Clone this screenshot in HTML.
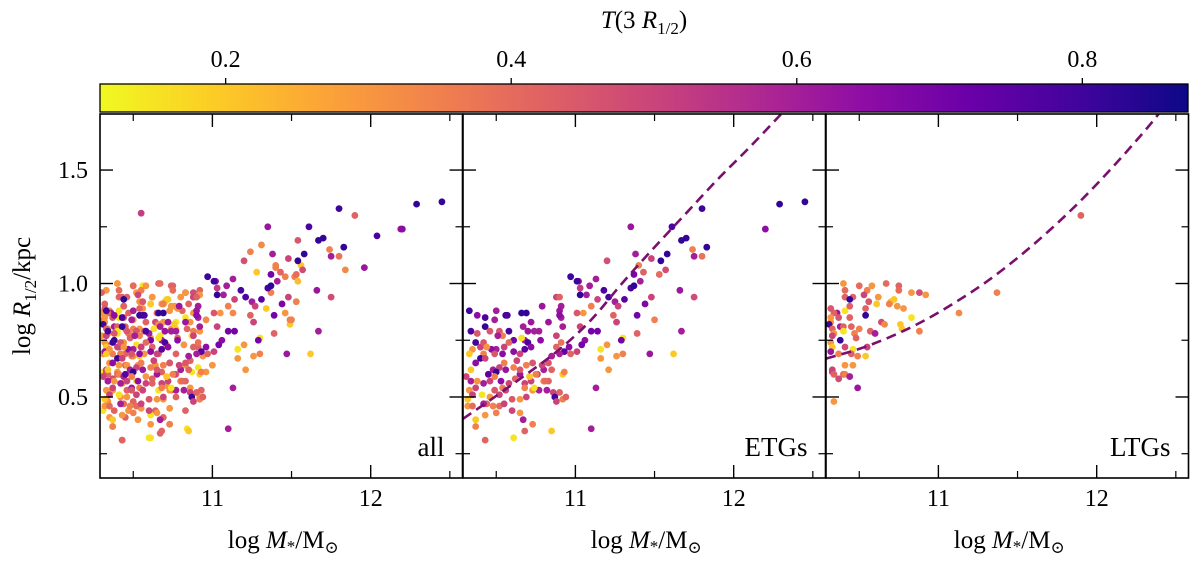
<!DOCTYPE html>
<html><head><meta charset="utf-8"><style>
html,body{margin:0;padding:0;background:#fff;}
svg{display:block;}
svg text{font-family:"Liberation Serif","DejaVu Serif",serif;}
</style></head><body>
<svg id="chart" width="1200" height="562" viewBox="0 0 1200 562" xmlns="http://www.w3.org/2000/svg" font-family="Liberation Serif, serif">
<defs><linearGradient id="cbgrad" x1="0" x2="1" y1="0" y2="0"></linearGradient></defs>
<g id="cb"></g>
<g id="panels"></g>
<text x="30" y="296" font-size="25" font-family="Liberation Serif, serif" text-anchor="middle" transform="rotate(-90 30 296)">log <tspan font-style="italic">R</tspan><tspan font-size="17" dy="6">1/2</tspan><tspan dy="-6">/kpc</tspan></text>
</svg>
<script>
// ---- data ----
const etgM=[12.45,12.29,12.20,11.80,11.61,11.67,11.70,11.83,11.74,11.80,11.75,11.35,11.20,11.38,11.48,11.54,11.58,11.57,11.53,11.40,11.43,11.37,11.41,11.35,11.37,10.97,11.02,11.09,11.13,11.03,11.18,11.21,11.25,11.31,11.27,11.24,11.26,11.39,11.44,11.48,11.50,11.66,11.75,11.67,11.39,11.30,11.29,11.20,11.16,11.16,11.26,11.30,11.47,11.62,11.21,11.13,11.10,11.01,11.03,11.07,11.14,11.10,11.05,11.01,11.03,11.10,11.14,11.06,11.04,10.96,10.93,10.90,10.85,10.97,11.01,10.88,10.90,10.91,10.90,10.91,10.90,10.83,10.92,10.88,10.91,10.88,10.83,10.80,10.79,10.77,10.78,10.79,10.76,10.72,10.68,10.65,10.62,10.58,10.54,10.52,10.49,10.46,10.44,10.41,10.37,10.34,10.33,10.32,10.31,10.34,10.37,10.40,10.35,10.33,10.37,10.42,10.34,10.38,10.43,10.46,10.49,10.52,10.56,10.58,10.66,10.69,10.67,10.70,10.72,10.74,10.68,10.66,10.61,10.58,10.55,10.50,10.47,10.44,10.42,10.40,10.43,10.49,10.54,10.61,10.65,10.70,10.72,10.68,10.63,10.55,10.52,10.48,10.45,10.50,10.56,10.61,10.65,10.69,10.73,10.75,10.71,10.68,10.73,10.69,10.65,10.60,10.56,10.53,10.49,10.46,10.42,10.38,10.35,10.32,10.35,10.42,10.48,10.52,10.55,10.60,10.65,10.50,10.43,10.37,10.37,10.67,10.73,10.68,10.85,10.61,10.43,10.80,10.83,10.82,10.86,10.90,10.87,10.92,10.94,10.88,10.92,10.93,10.85,10.81,10.77,10.74,10.33,10.38,10.43,10.50,10.57,10.54,10.51];
const etgR=[1.36,1.35,1.24,1.33,1.25,1.19,1.20,1.16,1.15,1.12,1.12,1.25,1.10,1.13,1.11,1.10,1.13,1.06,1.04,1.08,1.05,1.04,1.01,0.98,0.99,1.03,1.01,0.99,1.02,0.98,0.97,0.94,0.92,0.93,0.90,0.86,0.83,0.86,0.91,0.94,0.84,0.97,0.94,0.79,0.78,0.76,0.75,0.73,0.71,0.67,0.68,0.69,0.69,0.69,0.62,0.54,0.36,1.01,0.95,0.95,0.93,0.90,0.87,0.87,0.81,0.79,0.79,0.75,0.73,0.72,0.70,0.69,0.68,0.69,0.70,0.94,0.94,0.90,0.88,0.85,0.86,0.83,0.81,0.77,0.74,0.72,0.65,0.62,0.90,0.79,0.75,0.64,0.60,0.57,0.56,0.60,0.58,0.56,0.54,0.51,0.53,0.50,0.47,0.51,0.54,0.57,0.53,0.49,0.59,0.62,0.65,0.72,0.71,0.69,0.74,0.74,0.79,0.78,0.81,0.79,0.84,0.79,0.86,0.79,0.87,0.87,0.81,0.79,0.83,0.79,0.75,0.76,0.75,0.74,0.72,0.71,0.71,0.72,0.69,0.67,0.67,0.69,0.69,0.70,0.69,0.74,0.72,0.71,0.66,0.65,0.63,0.62,0.60,0.61,0.62,0.63,0.62,0.64,0.65,0.60,0.59,0.54,0.53,0.50,0.49,0.49,0.53,0.57,0.59,0.57,0.56,0.57,0.51,0.46,0.46,0.47,0.46,0.46,0.47,0.44,0.43,0.43,0.42,0.40,0.37,0.40,0.38,0.35,0.35,0.32,0.31,0.57,0.57,0.53,0.52,0.52,0.50,0.49,0.50,0.48,0.60,0.61,0.62,0.57,0.53,0.54,0.88,0.86,0.85,0.88,0.86,0.77,0.77];
const etgT=[.82,.82,.65,.8,.78,.82,.82,.82,.35,.38,.6,.62,.47,.6,.5,.82,.82,.48,.4,.35,.42,.7,.6,.78,.82,.8,.65,.6,.6,.52,.78,.78,.6,.75,.5,.42,.5,.7,.68,.5,.35,.62,.48,.6,.42,.15,.7,.3,.15,.3,.3,.35,.62,.2,.3,.6,.6,.8,.82,.6,.5,.35,.3,.45,.5,.7,.7,.65,.7,.65,.75,.6,.6,.42,.5,.5,.42,.6,.62,.6,.65,.62,.6,.5,.38,.42,.45,.6,.62,.6,.65,.5,.5,.5,.5,.62,.42,.5,.35,.5,.45,.3,.4,.15,.5,.6,.3,.2,.5,.2,.65,.5,.3,.2,.8,.45,.78,.45,.82,.45,.6,.45,.8,.78,.82,.82,.6,.62,.62,.6,.6,.15,.7,.4,.5,.6,.65,.3,.35,.8,.5,.45,.65,.65,.5,.78,.65,.75,.5,.35,.5,.6,.75,.82,.62,.35,.45,.35,.45,.35,.2,.35,.3,.5,.3,.45,.5,.65,.35,.5,.6,.3,.5,.3,.4,.6,.35,.4,.5,.5,.3,.35,.3,.2,.35,.6,.35,.42,.2,.15,.42,.35,.42,.6,.5,.42,.8,.35,.42,.5,.2,.35,.42,.4,.6,.15,.8,.65,.78,.6,.78,.35,.6];
const ltgM=[11.90,11.37,11.13,10.40,10.67,10.75,10.75,10.50,10.55,10.58,10.41,10.53,10.83,10.88,10.92,10.41,10.46,10.44,10.62,10.61,10.56,10.70,10.72,10.69,10.74,10.78,10.44,10.54,10.41,10.36,10.34,10.54,10.44,10.37,10.32,10.32,10.32,10.83,10.64,10.66,10.31,10.38,10.40,10.45,10.76,10.77,10.50,10.57,10.40,10.33,10.34,10.60,10.88,10.47,10.48,10.33,10.38,10.32,10.33,10.41,10.55,10.46,10.32,10.37,10.45,10.49,10.54,10.46,10.41,10.33,10.33,10.40,10.41,10.34,10.37,10.44,10.49,10.34];
const ltgR=[1.30,0.96,0.87,1.00,1.00,0.99,0.97,0.99,0.97,0.99,0.97,0.95,0.96,0.96,0.95,0.94,0.94,0.93,0.94,0.91,0.92,0.92,0.93,0.91,0.90,0.89,0.90,0.89,0.88,0.87,0.87,0.86,0.85,0.85,0.89,0.85,0.83,0.85,0.83,0.82,0.82,0.81,0.81,0.81,0.82,0.80,0.80,0.79,0.79,0.80,0.78,0.78,0.79,0.78,0.76,0.77,0.75,0.74,0.72,0.72,0.72,0.71,0.70,0.69,0.69,0.68,0.68,0.64,0.64,0.62,0.61,0.60,0.60,0.60,0.58,0.59,0.54,0.48];
const ltgT=[.42,.35,.33,.3,.4,.42,.4,.4,.35,.3,.4,.5,.3,.48,.3,.42,.42,.82,.3,.2,.45,.2,.2,.35,.3,.3,.42,.42,.15,.62,.42,.82,.42,.45,.45,.3,.3,.15,.48,.33,.8,.6,.42,.42,.2,.2,.35,.42,.15,.42,.3,.6,.35,.35,.42,.5,.82,.3,.2,.48,.5,.15,.62,.35,.42,.35,.2,.3,.3,.5,.5,.42,.35,.42,.48,.6,.62,.3];
const othM=[10.55,11.31,11.24,11.54,11.84,11.96,12.04,12.19,11.40,11.56,11.28,11.52,11.46,11.54,11.53,11.49,11.46,11.49,11.34,10.96,10.40,10.50,10.56,10.66,10.74,10.83,10.92,10.33,10.43,10.52,10.62,10.71,10.80,10.88,10.32,10.44,10.54,10.61,10.68,10.76,10.85,10.35,10.47,10.56,10.65,10.73,10.81,10.88,10.31,10.41,10.50,10.58,10.69,10.77,10.86,10.34,10.45,10.54,10.63,10.74,10.84,10.92,10.30,10.40,10.49,10.61,10.67,10.78,10.87,10.33,10.44,10.52,10.62,10.71,10.82,10.91,10.31,10.42,10.50,10.57,10.66,10.77,10.86,10.94,10.35,10.45,10.53,10.64,10.73,10.83,10.91,11.00,10.31,10.40,10.49,10.58,10.68,10.77,10.87,10.96,10.34,10.43,10.52,10.62,10.71,10.80,10.86,10.93,10.37,10.46,10.56,10.66,10.74,10.33,10.42,10.50,10.60,10.69,10.77,10.92,10.31,10.38,10.47,10.55,10.64,10.73,10.83,10.35,10.45,10.53,10.61,10.69,10.37,10.61,10.73,10.84,10.60,10.67,10.43,10.30,10.30];
const othR=[1.31,1.17,1.14,1.19,1.06,1.07,1.21,1.24,1.07,1.08,1.05,1.03,1.03,1.01,0.92,0.82,0.87,0.84,0.89,0.84,1.00,0.99,0.99,1.00,0.99,0.96,0.97,0.97,0.94,0.96,0.94,0.93,0.94,0.94,0.91,0.90,0.92,0.91,0.91,0.90,0.91,0.88,0.87,0.89,0.87,0.88,0.88,0.87,0.84,0.85,0.84,0.83,0.83,0.83,0.83,0.80,0.80,0.80,0.80,0.80,0.80,0.79,0.77,0.78,0.77,0.76,0.77,0.76,0.77,0.73,0.74,0.73,0.72,0.73,0.73,0.72,0.69,0.69,0.68,0.69,0.69,0.69,0.66,0.68,0.65,0.64,0.64,0.64,0.65,0.64,0.63,0.64,0.61,0.61,0.60,0.59,0.61,0.60,0.61,0.61,0.57,0.56,0.57,0.56,0.55,0.57,0.54,0.53,0.53,0.53,0.53,0.53,0.53,0.49,0.50,0.48,0.49,0.49,0.50,0.50,0.44,0.44,0.44,0.45,0.44,0.45,0.44,0.41,0.41,0.40,0.42,0.41,0.37,0.38,0.38,0.36,0.32,0.34,0.31,0.96,0.87];
const othT=[.52,.33,.35,.45,.33,.62,.78,.62,.35,.2,.2,.35,.35,.22,.35,.2,.3,.35,.2,.33,.3,.3,.15,.42,.42,.42,.42,.3,.42,.3,.3,.15,.3,.42,.42,.42,.3,.15,.3,.3,.42,.3,.42,.3,.42,.3,.42,.3,.42,.15,.3,.42,.3,.15,.3,.3,.42,.3,.15,.3,.42,.3,.3,.15,.42,.3,.15,.42,.15,.42,.3,.15,.42,.3,.3,.42,.3,.42,.3,.3,.42,.42,.42,.3,.3,.42,.3,.3,.42,.3,.15,.3,.15,.3,.42,.3,.42,.42,.15,.3,.42,.3,.15,.42,.3,.42,.3,.42,.3,.42,.3,.15,.42,.3,.3,.42,.3,.3,.42,.3,.15,.42,.3,.3,.42,.3,.42,.3,.42,.3,.15,.42,.3,.3,.3,.15,.15,.42,.42,.42,.3];
const etgLineM=[10.29,10.5,10.7,10.9,11.1,11.3,11.5,11.7,11.9,12.1,12.3];
const etgLineR=[0.404,0.505,0.605,0.71,0.84,1.005,1.16,1.31,1.46,1.60,1.747];
const ltgLineM=[10.29,10.5,10.7,10.9,11.1,11.3,11.5,11.7,11.9,12.1,12.3,12.4];
const ltgLineR=[0.669,0.712,0.766,0.833,0.914,1.006,1.113,1.233,1.366,1.512,1.670,1.755];
const xTicks=[11,12];
const xMinor=[10.5,11.5,12.5];
const yTicks=[0.5,1.0,1.5];
const yTickLabels=["0.5","1.0","1.5"];
const yMinor=[0.25,0.75,1.25];
const cbTicks=[0.2,0.4,0.6,0.8];
const cbTickLabels=["0.2","0.4","0.6","0.8"];
const panelNames=["all","ETGs","LTGs"];

// ---- scales ----
const NS="http://www.w3.org/2000/svg";
const FONT="Liberation Serif, DejaVu Serif, serif";
const PL=[100,463,826], PW=362.5, PT=114, PB=478;
const X0=10.29,X1=12.58,Y0=0.143,Y1=1.747,T0=0.112,T1=0.874;
function xs(p,v){return PL[p]+(v-X0)/(X1-X0)*PW;}
function ys(v){return PB-(v-Y0)/(Y1-Y0)*(PB-PT);}
const stops=["#0d0887","#41049d","#6a00a8","#8f0da4","#b12a90","#cc4778","#e16462","#f2844b","#fca636","#fcce25","#f0f921"];
function hex(h){return [1,3,5].map(i=>parseInt(h.substr(i,2),16));}
function cmap(t){let n=(t-T0)/(T1-T0);n=Math.max(0,Math.min(1,n));let u=(1-n)*10;let i=Math.min(9,Math.floor(u));let f=u-i;let a=hex(stops[i]),b=hex(stops[i+1]);return "rgb("+a.map((c,k)=>Math.round(c+(b[k]-c)*f)).join(",")+")";}
function mk(tag,attrs,parent){const e=document.createElementNS(NS,tag);for(const k in attrs)e.setAttribute(k,attrs[k]);if(tag==='text')e.setAttribute('font-family',FONT);parent.appendChild(e);return e;}

// colorbar
const grad=document.getElementById('cbgrad');
for(let i=0;i<=10;i++){mk('stop',{offset:(i/10),'stop-color':stops[10-i]},grad);}
const cb=document.getElementById('cb');
const cbx=v=>100+(v-T0)/(T1-T0)*1088;
const cbr=mk('rect',{x:100,y:84,width:1088,height:28,fill:'url(#cbgrad)',stroke:'#000','stroke-width':1.3},cb);


cbTicks.forEach((t,i)=>{
  mk('line',{x1:cbx(t),x2:cbx(t),y1:84,y2:78,stroke:'#000','stroke-width':1.3},cb);
  const tl=mk('text',{x:cbx(t),y:67,'font-size':24,'text-anchor':'middle'},cb);
  tl.textContent=cbTickLabels[i];
  
  
});
const cbt=mk('text',{x:644,y:28,'font-size':25,'text-anchor':'middle'},cb);
cbt.innerHTML='<tspan font-style="italic">T</tspan>(3 <tspan font-style="italic">R</tspan><tspan font-size="17" dy="6">1/2</tspan><tspan dy="-6">)</tspan>';



const panels=document.getElementById('panels');
function dots(p,g,M,R,T,name){
  for(let i=0;i<M.length;i++){
    const c=mk('circle',{cx:xs(p,M[i]),cy:ys(R[i]),r:3.4,fill:cmap(T[i])},g);
    
    
  }
}
function line(p,g,M,R,name){
  const pts=M.map((m,i)=>[xs(p,m),ys(R[i])]);
  let d='M'+pts[0][0].toFixed(1)+','+pts[0][1].toFixed(1);
  for(let i=0;i<pts.length-1;i++){
    const p0=pts[Math.max(0,i-1)],p1=pts[i],p2=pts[i+1],p3=pts[Math.min(pts.length-1,i+2)];
    const c1=[p1[0]+(p2[0]-p0[0])/6,p1[1]+(p2[1]-p0[1])/6],c2=[p2[0]-(p3[0]-p1[0])/6,p2[1]-(p3[1]-p1[1])/6];
    d+=' C'+c1.map(v=>v.toFixed(1)).join(',')+' '+c2.map(v=>v.toFixed(1)).join(',')+' '+p2.map(v=>v.toFixed(1)).join(',');
  }
  const l=mk('path',{d:d,fill:'none',stroke:'#7a0f6e','stroke-width':2.6,'stroke-dasharray':'10,6'},g);
  
  
}
for(let p=0;p<3;p++){
  const g=mk('g',{},panels);
  
  
  const cid='clip'+p;
  const cp=mk('clipPath',{id:cid},g);mk('rect',{x:PL[p],y:PT,width:PW,height:PB-PT},cp);
  const pg=mk('g',{'clip-path':'url(#'+cid+')'},g);
  if(p===0){dots(p,pg,othM,othR,othT,'galaxy-point-other');dots(p,pg,ltgM,ltgR,ltgT,'galaxy-point-ltg');dots(p,pg,etgM,etgR,etgT,'galaxy-point-etg');}
  if(p===1){dots(p,pg,etgM,etgR,etgT,'galaxy-point-etg');line(p,pg,etgLineM,etgLineR,'etg-fit-line');}
  if(p===2){dots(p,pg,ltgM,ltgR,ltgT,'galaxy-point-ltg');line(p,pg,ltgLineM,ltgLineR,'ltg-fit-line');}
  const L=PL[p],Rr=PL[p]+PW;
  xTicks.forEach(v=>{const x=xs(p,v);mk('line',{x1:x,x2:x,y1:PB,y2:PB-13,stroke:'#000','stroke-width':1.4},g);mk('line',{x1:x,x2:x,y1:PT,y2:PT+13,stroke:'#000','stroke-width':1.4},g);
    const t=mk('text',{x:x,y:506,'font-size':24,'text-anchor':'middle'},g);t.textContent=String(v);
    
    });
  xMinor.forEach(v=>{const x=xs(p,v);mk('line',{x1:x,x2:x,y1:PB,y2:PB-7,stroke:'#000','stroke-width':1.2},g);mk('line',{x1:x,x2:x,y1:PT,y2:PT+7,stroke:'#000','stroke-width':1.2},g);});
  yTicks.forEach((v,i)=>{const y=ys(v);mk('line',{x1:L,x2:L+13,y1:y,y2:y,stroke:'#000','stroke-width':1.4},g);mk('line',{x1:Rr,x2:Rr-13,y1:y,y2:y,stroke:'#000','stroke-width':1.4},g);
    if(p===0){const t=mk('text',{x:88,y:y+8,'font-size':24,'text-anchor':'end'},g);t.textContent=yTickLabels[i];
      
      }});
  yMinor.forEach(v=>{const y=ys(v);mk('line',{x1:L,x2:L+7,y1:y,y2:y,stroke:'#000','stroke-width':1.2},g);mk('line',{x1:Rr,x2:Rr-7,y1:y,y2:y,stroke:'#000','stroke-width':1.2},g);});
  const fr=mk('rect',{x:L,y:PT,width:PW,height:PB-PT,fill:'none',stroke:'#000','stroke-width':1.6},g);
  
  
  const lb=mk('text',{x:Rr-18,y:456,'font-size':27,'text-anchor':'end'},g);lb.textContent=panelNames[p];
  
  
  const xt=mk('text',{x:L+PW/2+2,y:548,'font-size':25,'text-anchor':'middle'},g);
  xt.innerHTML='log <tspan font-style="italic">M</tspan><tspan font-size="17" dy="4">*</tspan><tspan dy="-4">/M</tspan><tspan font-size="17" dy="5">⊙</tspan>';
  
  
}
</script>
</body></html>
